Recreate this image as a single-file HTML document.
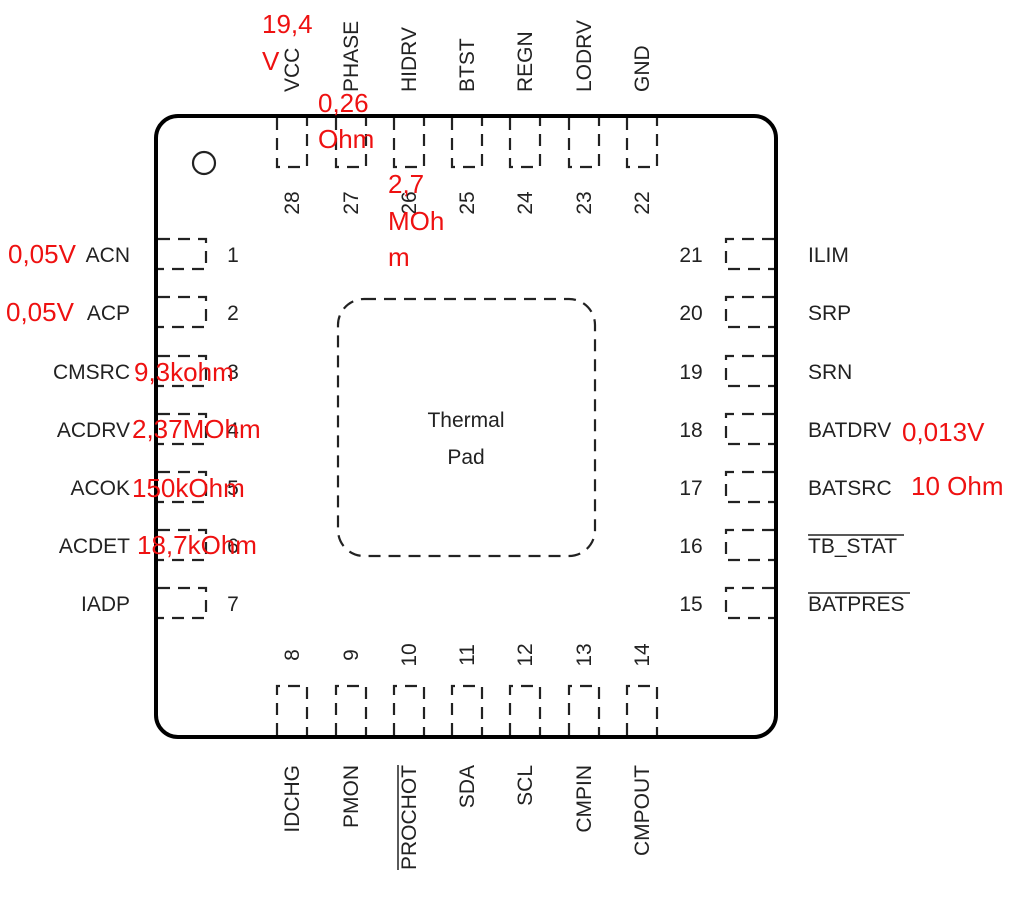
<!DOCTYPE html>
<html><head><meta charset="utf-8"><style>
html,body{margin:0;padding:0;background:#fff;}
svg{display:block;}
.l{font-family:"Liberation Sans",Arial,sans-serif;font-size:21px;fill:#222;}
.r{font-family:"Liberation Sans",sans-serif;font-size:26px;fill:#ee1111;}
.p{fill:none;stroke:#222;stroke-width:2.2;stroke-dasharray:12 8;}
</style></head><body>
<svg width="1028" height="908" viewBox="0 0 1028 908" xmlns="http://www.w3.org/2000/svg">
<rect x="156" y="116" width="620" height="621" rx="22" fill="none" stroke="#000" stroke-width="4"/>
<circle cx="204" cy="163" r="11" fill="none" stroke="#222" stroke-width="2.2"/>
<rect x="338" y="299" width="257" height="257" rx="26" class="p"/>
<text class="l" x="466" y="427" text-anchor="middle">Thermal</text>
<text class="l" x="466" y="464" text-anchor="middle">Pad</text>

<g class="p">
<path d="M158 239H206V269H158"/><path d="M158 297H206V327H158"/><path d="M158 356H206V386H158"/>
<path d="M158 414H206V444H158"/><path d="M158 472H206V502H158"/><path d="M158 530H206V560H158"/>
<path d="M158 588H206V618H158"/>
<path d="M774 239H726V269H774"/><path d="M774 297H726V327H774"/><path d="M774 356H726V386H774"/>
<path d="M774 414H726V444H774"/><path d="M774 472H726V502H774"/><path d="M774 530H726V560H774"/>
<path d="M774 588H726V618H774"/>
<path d="M277 118V167H307V118"/><path d="M336 118V167H366V118"/><path d="M394 118V167H424V118"/>
<path d="M452 118V167H482V118"/><path d="M510 118V167H540V118"/><path d="M569 118V167H599V118"/>
<path d="M627 118V167H657V118"/>
<path d="M277 735V686H307V735"/><path d="M336 735V686H366V735"/><path d="M394 735V686H424V735"/>
<path d="M452 735V686H482V735"/><path d="M510 735V686H540V735"/><path d="M569 735V686H599V735"/>
<path d="M627 735V686H657V735"/>
</g>

<g class="l" text-anchor="end">
<text x="130" y="262">ACN</text><text x="130" y="320">ACP</text><text x="130" y="379">CMSRC</text>
<text x="130" y="437">ACDRV</text><text x="130" y="495">ACOK</text><text x="130" y="553">ACDET</text>
<text x="130" y="611">IADP</text>
</g>
<g class="l" text-anchor="middle">
<text x="233" y="262">1</text><text x="233" y="320">2</text><text x="233" y="379">3</text>
<text x="233" y="437">4</text><text x="233" y="495">5</text><text x="233" y="553">6</text><text x="233" y="611">7</text>
<text x="691" y="262">21</text><text x="691" y="320">20</text><text x="691" y="379">19</text>
<text x="691" y="437">18</text><text x="691" y="495">17</text><text x="691" y="553">16</text><text x="691" y="611">15</text>
</g>
<g class="l">
<text x="808" y="262">ILIM</text><text x="808" y="320">SRP</text><text x="808" y="379">SRN</text>
<text x="808" y="437">BATDRV</text><text x="808" y="495">BATSRC</text><text x="808" y="553">TB_STAT</text>
<text x="808" y="611">BATPRES</text>
</g>
<line x1="808" y1="535" x2="904" y2="535" stroke="#222" stroke-width="1.5"/>
<line x1="808" y1="593" x2="910" y2="593" stroke="#222" stroke-width="1.5"/>

<g class="l">
<text transform="translate(299,92) rotate(-90)">VCC</text>
<text transform="translate(358,92) rotate(-90)">PHASE</text>
<text transform="translate(416,92) rotate(-90)">HIDRV</text>
<text transform="translate(474,92) rotate(-90)">BTST</text>
<text transform="translate(532,92) rotate(-90)">REGN</text>
<text transform="translate(591,92) rotate(-90)">LODRV</text>
<text transform="translate(649,92) rotate(-90)">GND</text>
</g>
<g class="l" text-anchor="middle">
<text transform="translate(299,203) rotate(-90)">28</text>
<text transform="translate(358,203) rotate(-90)">27</text>
<text transform="translate(416,203) rotate(-90)">26</text>
<text transform="translate(474,203) rotate(-90)">25</text>
<text transform="translate(532,203) rotate(-90)">24</text>
<text transform="translate(591,203) rotate(-90)">23</text>
<text transform="translate(649,203) rotate(-90)">22</text>
<text transform="translate(299,655) rotate(-90)">8</text>
<text transform="translate(358,655) rotate(-90)">9</text>
<text transform="translate(416,655) rotate(-90)">10</text>
<text transform="translate(474,655) rotate(-90)">11</text>
<text transform="translate(532,655) rotate(-90)">12</text>
<text transform="translate(591,655) rotate(-90)">13</text>
<text transform="translate(649,655) rotate(-90)">14</text>
</g>
<g class="l" text-anchor="end">
<text transform="translate(299,765) rotate(-90)">IDCHG</text>
<text transform="translate(358,765) rotate(-90)">PMON</text>
<text transform="translate(416,765) rotate(-90)">PROCHOT</text>
<text transform="translate(474,765) rotate(-90)">SDA</text>
<text transform="translate(532,765) rotate(-90)">SCL</text>
<text transform="translate(591,765) rotate(-90)">CMPIN</text>
<text transform="translate(649,765) rotate(-90)">CMPOUT</text>
</g>
<line x1="398" y1="765" x2="398" y2="870" stroke="#222" stroke-width="1.5"/>

<g class="r">
<text x="262" y="33">19,4</text><text x="262" y="70">V</text>
<text x="318" y="112">0,26</text><text x="318" y="148">Ohm</text>
<text x="388" y="193">2,7</text><text x="388" y="230">MOh</text><text x="388" y="266">m</text>
<text x="8" y="263">0,05V</text><text x="6" y="321">0,05V</text>
<text x="134" y="381">9,3kohm</text><text x="132" y="438">2,37MOhm</text>
<text x="132" y="497">150kOhm</text><text x="137" y="554">18,7kOhm</text>
<text x="902" y="441">0,013V</text><text x="911" y="495">10 Ohm</text>
</g>
</svg>
</body></html>
